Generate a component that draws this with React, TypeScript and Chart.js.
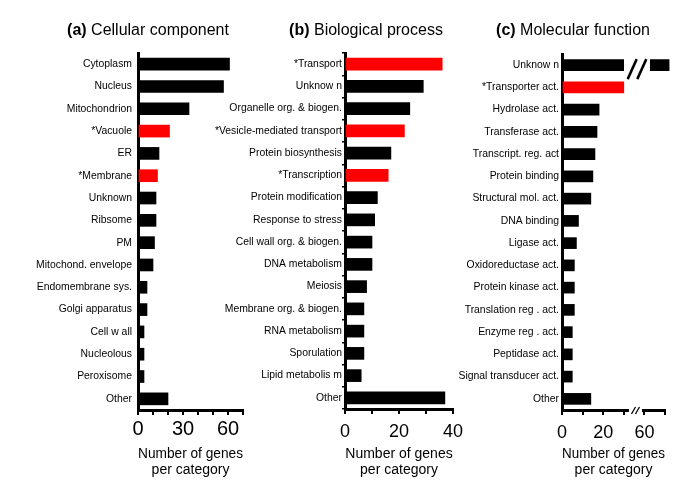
import React, { useEffect, useRef } from 'react';
import { Chart, registerables, LinearScale } from 'chart.js';

Chart.register(...registerables);

const FONT = "'Liberation Sans', Arial, Helvetica, sans-serif";
const RED = '#ff0000';
const BLACK = '#000000';

// ---------- data ----------
const A_LABELS = ['Cytoplasm', 'Nucleus', 'Mitochondrion', '*Vacuole', 'ER', '*Membrane', 'Unknown', 'Ribsome', 'PM', 'Mitochond. envelope', 'Endomembrane sys.', 'Golgi apparatus', 'Cell w all', 'Nucleolous', 'Peroxisome', 'Other'];
const A_VALUES = [61, 57, 34, 21, 14, 13, 12, 12, 11, 10, 6, 6, 4, 4, 4, 20];
const A_TICKS = [0, 10, 20, 30, 40, 50, 60, 70];
const A_TICK_LABELS = [0, 30, 60];

const B_LABELS = ['*Transport', 'Unknow n', 'Organelle org. & biogen.', '*Vesicle-mediated transport', 'Protein biosynthesis', '*Transcription', 'Protein modification', 'Response to stress', 'Cell wall org. & biogen.', 'DNA metabolism', 'Meiosis', 'Membrane org. & biogen.', 'RNA metabolism', 'Sporulation', 'Lipid metabolis m', 'Other'];
const B_VALUES = [36, 29, 24, 22, 17, 16, 12, 11, 10, 10, 8, 7, 7, 7, 6, 37];
const B_TICKS = [0, 10, 20, 30, 40];
const B_TICK_LABELS = [0, 20, 40];

const C_LABELS = ['Unknow n', '*Transporter act.', 'Hydrolase act.', 'Transferase act.', 'Transcript. reg. act', 'Protein binding', 'Structural mol. act.', 'DNA binding', 'Ligase act.', 'Oxidoreductase act.', 'Protein kinase act.', 'Translation reg . act.', 'Enzyme reg . act.', 'Peptidase act.', 'Signal transducer act.', 'Other'];
const C_VALUES = [72, 30, 18, 17, 16, 15, 14, 8, 7, 6, 6, 6, 5, 5, 5, 14];
const C_TICKS = [0, 10, 20, 30, 60, 70];
const C_TICK_LABELS = [0, 20, 60];

const X_TITLE = ['Number of genes', 'per category'];

// ---------- broken axis ----------
const BREAK_LOW = 30;
const BREAK_HIGH = 60;
const BREAK_SPAN = 10; // axis units the break occupies on screen

function toDisplay(v: number) {
  if (v <= BREAK_LOW) return v;
  if (v >= BREAK_HIGH) return v - (BREAK_HIGH - BREAK_LOW) + BREAK_SPAN;
  return BREAK_LOW + ((v - BREAK_LOW) * BREAK_SPAN) / (BREAK_HIGH - BREAK_LOW);
}
function fromDisplay(d: number) {
  if (d <= BREAK_LOW) return d;
  if (d >= BREAK_LOW + BREAK_SPAN) return d + (BREAK_HIGH - BREAK_LOW) - BREAK_SPAN;
  return BREAK_LOW + ((d - BREAK_LOW) * (BREAK_HIGH - BREAK_LOW)) / BREAK_SPAN;
}

class BrokenLinearScale extends LinearScale {
  static id = 'brokenLinear';
  static defaults = {};
  determineDataLimits() {
    const o: any = this.options;
    (this as any).min = toDisplay(o.min ?? 0);
    (this as any).max = toDisplay(o.max ?? 0);
  }
  buildTicks() {
    const o: any = this.options;
    return (o.tickValues as number[]).map((v) => ({ value: v }));
  }
  getPixelForValue(value: number) {
    return super.getPixelForValue(toDisplay(value));
  }
  getValueForPixel(pixel: number) {
    return fromDisplay(super.getValueForPixel(pixel) as number);
  }
}
Chart.register(BrokenLinearScale as any);

// ---------- plugins ----------
const panelTitlePlugin = {
  id: 'panelTitle',
  afterDraw(chart: any, _args: any, opts: any) {
    const ctx = chart.ctx;
    ctx.save();
    ctx.fillStyle = BLACK;
    ctx.textBaseline = 'alphabetic';
    ctx.textAlign = 'left';
    const bold = `bold ${opts.size}px ${FONT}`;
    const reg = `${opts.size}px ${FONT}`;
    ctx.font = bold;
    const w1 = ctx.measureText(opts.tag + ' ').width;
    ctx.font = reg;
    const w2 = ctx.measureText(opts.text).width;
    const x0 = opts.centerX - (w1 + w2) / 2;
    ctx.font = bold;
    ctx.fillText(opts.tag + ' ', x0, opts.baseline);
    ctx.font = reg;
    ctx.fillText(opts.text, x0 + w1, opts.baseline);
    ctx.restore();
  },
};

const BAR_GAP = [30.3, 62.7];
const AXIS_GAP = [37.5, 56.5];

const breakPlugin = {
  id: 'axisBreak',
  afterDraw(chart: any) {
    const ctx = chart.ctx;
    const xs = chart.scales.x;
    const ys = chart.scales.y;
    const bottom = chart.chartArea.bottom;
    ctx.save();
    const vals = chart.data.datasets[0].data as number[];
    vals.forEach((v, i) => {
      if (v <= BREAK_HIGH) return;
      const yc = ys.getPixelForValue(i);
      const g1 = xs.getPixelForValue(BAR_GAP[0]);
      const g2 = xs.getPixelForValue(BAR_GAP[1]);
      ctx.fillStyle = '#ffffff';
      ctx.fillRect(g1, yc - 8, g2 - g1, 16);
      const mid = (g1 + g2) / 2;
      ctx.strokeStyle = BLACK;
      ctx.lineWidth = 2.5;
      [-4.8, 4.8].forEach((dx) => {
        ctx.beginPath();
        ctx.moveTo(mid + dx - 4.5, yc + 14);
        ctx.lineTo(mid + dx + 4.5, yc - 6);
        ctx.stroke();
      });
    });
    const a1 = xs.getPixelForValue(AXIS_GAP[0]);
    const a2 = xs.getPixelForValue(AXIS_GAP[1]);
    ctx.fillStyle = '#ffffff';
    ctx.fillRect(a1, bottom - 4, a2 - a1, 10);
    const am = (a1 + a2) / 2;
    ctx.strokeStyle = BLACK;
    ctx.lineWidth = 1.3;
    [-2, 2].forEach((dx) => {
      ctx.beginPath();
      ctx.moveTo(am + dx - 2, bottom + 4);
      ctx.lineTo(am + dx + 2, bottom - 3);
      ctx.stroke();
    });
    ctx.restore();
  },
};

// ---------- panel setup ----------
type Panel = {
  labels: string[];
  values: number[];
  ticks: number[];
  tickLabels: number[];
  xMax: number;
  broken: boolean;
  tag: string;
  title: string;
  canvasLeft: number;
  canvasWidth: number;
  yAxisWidth: number;
  top: number;
  bottom: number;
  padRight: number;
  tickFont: number;
  tickPad: number;
  labelPad: number;
  barThickness: number;
  titleCenter: number;
  yTickMarks: boolean;
};

const H = 492;

const PANELS: Panel[] = [
  {
    labels: A_LABELS, values: A_VALUES, ticks: A_TICKS, tickLabels: A_TICK_LABELS, xMax: 70, broken: false,
    tag: '(a)', title: 'Cellular component',
    canvasLeft: 0, canvasWidth: 260, yAxisWidth: 138, top: 53, bottom: 410, padRight: 17,
    tickFont: 20, tickPad: 2, labelPad: 6, barThickness: 12, titleCenter: 148, yTickMarks: false,
  },
  {
    labels: B_LABELS, values: B_VALUES, ticks: B_TICKS, tickLabels: B_TICK_LABELS, xMax: 40, broken: false,
    tag: '(b)', title: 'Biological process',
    canvasLeft: 190, canvasWidth: 280, yAxisWidth: 155, top: 53, bottom: 409, padRight: 16,
    tickFont: 18, tickPad: 7, labelPad: 0, barThickness: 12, titleCenter: 366, yTickMarks: true,
  },
  {
    labels: C_LABELS, values: C_VALUES, ticks: C_TICKS, tickLabels: C_TICK_LABELS, xMax: 70, broken: true,
    tag: '(c)', title: 'Molecular function',
    canvasLeft: 440, canvasWidth: 245, yAxisWidth: 122, top: 54, bottom: 410, padRight: 20,
    tickFont: 18, tickPad: 7, labelPad: 3, barThickness: 11, titleCenter: 573, yTickMarks: false,
  },
];

function makeChart(canvas: HTMLCanvasElement, p: Panel) {
  const xAxis: any = {
    type: p.broken ? 'brokenLinear' : 'linear',
    min: 0,
    max: p.xMax,
    tickValues: p.ticks,
    afterBuildTicks: p.broken
      ? undefined
      : (s: any) => {
          s.ticks = p.ticks.map((v) => ({ value: v }));
        },
    afterFit: (s: any) => {
      s.height = H - p.bottom;
    },
    grid: {
      display: true,
      drawOnChartArea: false,
      drawTicks: true,
      tickLength: 5,
      color: BLACK,
      lineWidth: 2,
    },
    border: { display: true, color: BLACK, width: 3 },
    ticks: {
      autoSkip: false,
      maxRotation: 0,
      minRotation: 0,
      padding: p.tickPad,
      color: BLACK,
      font: { family: FONT, size: p.tickFont },
      callback: (v: any) => (p.tickLabels.includes(Number(v)) ? String(v) : ''),
    },
    title: {
      display: true,
      text: X_TITLE,
      color: BLACK,
      font: { family: FONT, size: 14, lineHeight: 1.2 },
      padding: { top: 0, bottom: 13 },
    },
  };

  const yAxis: any = {
    type: 'category',
    offset: true,
    afterFit: (s: any) => {
      s.width = p.yAxisWidth;
    },
    grid: p.yTickMarks
      ? { display: true, drawOnChartArea: false, drawTicks: true, tickLength: 3, offset: true, color: BLACK, lineWidth: 1.5 }
      : { display: false, drawTicks: false },
    border: { display: true, color: BLACK, width: 3 },
    ticks: {
      autoSkip: false,
      padding: p.labelPad,
      color: BLACK,
      font: { family: FONT, size: 10.4 },
    },
  };

  return new Chart(canvas, {
    type: 'bar',
    data: {
      labels: p.labels,
      datasets: [
        {
          data: p.values,
          backgroundColor: p.labels.map((l) => (l.startsWith('*') ? RED : BLACK)),
          borderWidth: 0,
          barThickness: p.barThickness,
          clip: false as any,
        } as any,
      ],
    },
    options: {
      indexAxis: 'y',
      responsive: false,
      animation: false,
      devicePixelRatio: 1,
      layout: { padding: { left: 0, right: p.padRight, top: p.top, bottom: 0 } },
      scales: { x: xAxis, y: yAxis },
      plugins: {
        legend: { display: false },
        tooltip: { enabled: false },
        panelTitle: { tag: p.tag, text: p.title, size: 16, centerX: p.titleCenter - p.canvasLeft, baseline: 35 },
      } as any,
    },
    plugins: p.broken ? [panelTitlePlugin, breakPlugin] : [panelTitlePlugin],
  } as any);
}

export default function App() {
  const refs = [useRef<HTMLCanvasElement>(null), useRef<HTMLCanvasElement>(null), useRef<HTMLCanvasElement>(null)];

  useEffect(() => {
    document.body.style.margin = '0';
    const charts = PANELS.map((p, i) => makeChart(refs[i].current as HTMLCanvasElement, p));
    return () => charts.forEach((c) => c.destroy());
  }, []);

  return (
    <div style={{ position: 'relative', width: 685, height: H, background: '#ffffff', overflow: 'hidden' }}>
      {PANELS.map((p, i) => (
        <canvas
          key={i}
          ref={refs[i]}
          width={p.canvasWidth}
          height={H}
          style={{ position: 'absolute', left: p.canvasLeft, top: 0, width: p.canvasWidth, height: H }}
        />
      ))}
    </div>
  );
}
